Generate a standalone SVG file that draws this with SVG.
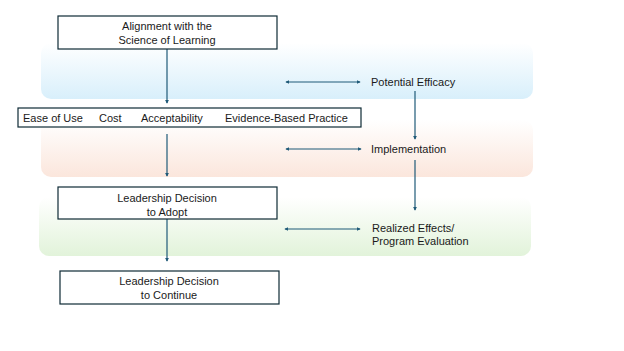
<svg xmlns="http://www.w3.org/2000/svg" width="624" height="351" viewBox="0 0 624 351">
<style>
.box{fill:#fff;stroke:#0e2a35;stroke-width:1.2}
.t{font-family:"Liberation Sans",Arial,sans-serif;font-size:11px;fill:#1a1a1a}
.c{text-anchor:middle}
.ln{stroke:#1f5a78;stroke-width:1.2;fill:none;marker-end:url(#ah)}
.dl{marker-start:url(#as)}
</style>
<defs>
<linearGradient id="gb" x1="0" y1="0" x2="0" y2="1"><stop offset="0" stop-color="#fff"/><stop offset="1" stop-color="#d8effb"/></linearGradient>
<linearGradient id="go" x1="0" y1="0" x2="0" y2="1"><stop offset="0" stop-color="#fff"/><stop offset="1" stop-color="#fbe6dc"/></linearGradient>
<linearGradient id="gg" x1="0" y1="0" x2="0" y2="1"><stop offset="0" stop-color="#fff"/><stop offset="1" stop-color="#e2f3da"/></linearGradient>
<marker id="ah" viewBox="0 0 6 6" refX="5" refY="3" markerWidth="3.5" markerHeight="3.5" orient="auto"><path d="M0,0L6,3L0,6z" fill="#1f5a78"/></marker>
<marker id="as" viewBox="0 0 6 6" refX="1" refY="3" markerWidth="3.5" markerHeight="3.5" orient="auto"><path d="M6,0L0,3L6,6z" fill="#1f5a78"/></marker>
</defs>
<g id="bands">
<rect x="41" y="43" width="492" height="56" rx="10" fill="url(#gb)"/>
<rect x="41" y="120" width="492" height="57" rx="10" fill="url(#go)"/>
<rect x="39" y="197" width="492" height="59" rx="10" fill="url(#gg)"/>
</g>
<g id="connectors">
<line class="ln" x1="167" y1="49" x2="167" y2="103"/>
<line class="ln" x1="167" y1="134" x2="167" y2="176"/>
<line class="ln" x1="167" y1="219" x2="167" y2="261"/>
<line class="ln" x1="415" y1="91" x2="415" y2="139"/>
<line class="ln" x1="415" y1="160" x2="415" y2="210"/>
<line class="ln dl" x1="286" y1="82" x2="360" y2="82"/>
<line class="ln dl" x1="286" y1="149" x2="361" y2="149"/>
<line class="ln dl" x1="285" y1="229" x2="360" y2="229"/>
</g>
<g id="n-alignment">
<rect class="box" x="58" y="16" width="219" height="33"/>
<text class="t c" x="167" y="30">Alignment with the</text>
<text class="t c" x="167" y="44">Science of Learning</text>
</g>
<g id="n-criteria">
<rect class="box" x="18" y="108" width="343" height="19"/>
<text class="t" x="23" y="122">Ease of Use</text>
<text class="t" x="99" y="122">Cost</text>
<text class="t" x="141" y="122">Acceptability</text>
<text class="t" x="225" y="122">Evidence-Based Practice</text>
</g>
<g id="n-adopt">
<rect class="box" x="58" y="187" width="219" height="32"/>
<text class="t c" x="167" y="202">Leadership Decision</text>
<text class="t c" x="167" y="216">to Adopt</text>
</g>
<g id="n-continue">
<rect class="box" x="60" y="271" width="219" height="33"/>
<text class="t c" x="169" y="285">Leadership Decision</text>
<text class="t c" x="169" y="299">to Continue</text>
</g>
<g id="n-efficacy"><text class="t" x="371" y="86">Potential Efficacy</text></g>
<g id="n-implementation"><text class="t" x="371" y="153">Implementation</text></g>
<g id="n-realized">
<text class="t" x="372" y="232">Realized Effects/</text>
<text class="t" x="372" y="245">Program Evaluation</text>
</g>
</svg>
